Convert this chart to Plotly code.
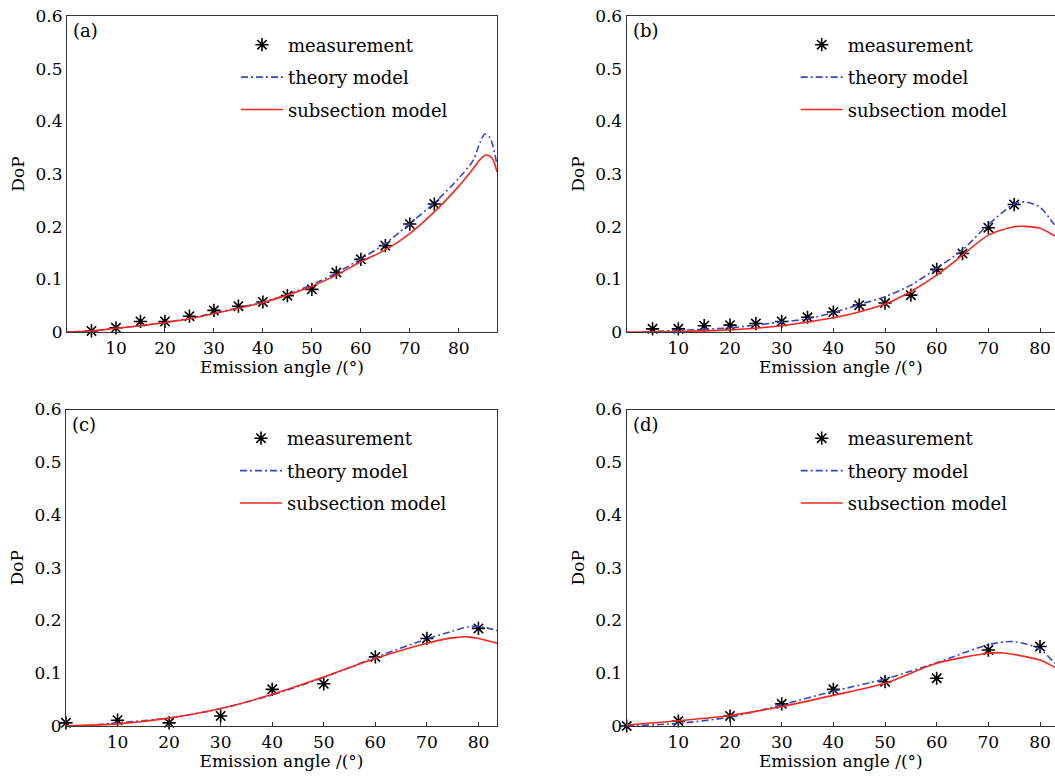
import plotly.graph_objects as go

# ---------------- data ----------------
# panel (a)
a_meas_x = [5, 10, 15, 20, 25, 30, 35, 40, 45, 50, 55, 60, 65, 70, 75]
a_meas_y = [0.002, 0.008, 0.020, 0.020, 0.030, 0.041, 0.049, 0.057, 0.069, 0.081, 0.113, 0.138, 0.164, 0.205, 0.243]
a_theory_x = [0, 5, 10, 15, 20, 25, 30, 35, 40, 45, 50, 55, 60, 65, 70, 75, 80, 83, 84.3, 85.3, 86.3, 87, 87.8]
a_theory_y = [0, 0.002, 0.007, 0.012, 0.018, 0.026, 0.036, 0.046, 0.057, 0.071, 0.090, 0.112, 0.139, 0.168, 0.206, 0.245, 0.292, 0.327, 0.359, 0.376, 0.370, 0.352, 0.317]
a_sub_x = [0, 5, 10, 15, 20, 25, 30, 35, 40, 45, 50, 55, 60, 65, 70, 75, 80, 83, 84.3, 85.6, 86.8, 87.8]
a_sub_y = [0, 0.002, 0.007, 0.012, 0.018, 0.025, 0.035, 0.045, 0.056, 0.070, 0.087, 0.108, 0.1335, 0.156, 0.187, 0.228, 0.277, 0.311, 0.327, 0.336, 0.330, 0.304]

# panel (b)
b_meas_x = [5, 10, 15, 20, 25, 30, 35, 40, 45, 50, 55, 60, 65, 70, 75]
b_meas_y = [0.006, 0.006, 0.012, 0.013, 0.016, 0.020, 0.028, 0.038, 0.051, 0.055, 0.070, 0.119, 0.149, 0.198, 0.242]
b_theory_x = [3, 10, 20, 30, 35, 40, 45, 50, 55, 60, 65, 70, 75, 77, 80, 82.6, 84]
b_theory_y = [0, 0.003, 0.008, 0.019, 0.025, 0.037, 0.052, 0.067, 0.089, 0.121, 0.156, 0.204, 0.243, 0.247, 0.237, 0.206, 0.190]
b_sub_x = [0, 10, 20, 30, 40, 45, 50, 55, 60, 65, 70, 75, 77, 80, 82.6, 84]
b_sub_y = [0, 0.001, 0.004, 0.012, 0.027, 0.038, 0.053, 0.077, 0.108, 0.146, 0.184, 0.200, 0.2006, 0.197, 0.184, 0.177]

# panel (c)
c_meas_x = [0, 10, 20, 30, 40, 50, 60, 70, 80]
c_meas_y = [0.006, 0.011, 0.006, 0.019, 0.0695, 0.080, 0.131, 0.166, 0.185]
c_theory_x = [3, 10, 20, 30, 40, 50, 60, 70, 75, 78, 80, 84]
c_theory_y = [0, 0.006, 0.015, 0.033, 0.059, 0.092, 0.130, 0.165, 0.180, 0.188, 0.189, 0.180]
c_sub_x = [0, 10, 20, 30, 40, 50, 60, 70, 75, 78, 80, 84]
c_sub_y = [0, 0.004, 0.015, 0.033, 0.060, 0.093, 0.128, 0.157, 0.167, 0.169, 0.166, 0.156]

# panel (d)
d_meas_x = [0, 10, 20, 30, 40, 50, 60, 70, 80]
d_meas_y = [0, 0.0095, 0.019, 0.042, 0.0695, 0.084, 0.0905, 0.144, 0.1506]
d_theory_x = [0, 10, 20, 30, 40, 50, 60, 70, 75, 80, 82.6, 84]
d_theory_y = [0, 0.005, 0.017, 0.040, 0.066, 0.089, 0.120, 0.154, 0.160, 0.1455, 0.122, 0.110]
d_sub_x = [0, 10, 20, 30, 40, 50, 60, 70, 72.3, 80, 82.6, 84]
d_sub_y = [0.002, 0.010, 0.020, 0.037, 0.058, 0.081, 0.119, 0.138, 0.139, 0.125, 0.1126, 0.105]

panel_labels = ["(a)", "(b)", "(c)", "(d)"]
series_names = ["measurement", "theory model", "subsection model"]
x_tickvals = [10, 20, 30, 40, 50, 60, 70, 80]
y_tickvals = [0, 0.1, 0.2, 0.3, 0.4, 0.5, 0.6]
y_ticktext = ["0", "0.1", "0.2", "0.3", "0.4", "0.5", "0.6"]
x_title = "Emission angle /(°)"
y_title = "DoP"

# ---------------- styling ----------------
FONT = "DejaVu Serif"
BLUE = "#3548c6"
RED = "#f5281e"
AXCOL = "#333333"
W, H = 1055, 776

panels = [
    dict(meas=(a_meas_x, a_meas_y), th=(a_theory_x, a_theory_y), sub=(a_sub_x, a_sub_y),
         xdom=(67 / W, 497 / W), ydom=((H - 332) / H, (H - 16) / H), xr=87.8, mirror_y=True),
    dict(meas=(b_meas_x, b_meas_y), th=(b_theory_x, b_theory_y), sub=(b_sub_x, b_sub_y),
         xdom=(626.7 / W, 1.0), ydom=((H - 332) / H, (H - 16) / H), xr=82.9, mirror_y=False),
    dict(meas=(c_meas_x, c_meas_y), th=(c_theory_x, c_theory_y), sub=(c_sub_x, c_sub_y),
         xdom=(66 / W, 497 / W), ydom=((H - 726) / H, (H - 409.5) / H), xr=83.6, mirror_y=True),
    dict(meas=(d_meas_x, d_meas_y), th=(d_theory_x, d_theory_y), sub=(d_sub_x, d_sub_y),
         xdom=(626.7 / W, 1.0), ydom=((H - 726) / H, (H - 409.5) / H), xr=82.9, mirror_y=False),
]

fig = go.Figure()
layout = dict(
    width=W, height=H,
    margin=dict(l=0, r=0, t=0, b=0, pad=0, autoexpand=False),
    paper_bgcolor="white", plot_bgcolor="white",
    font=dict(family=FONT, size=17, color="black"),
    annotations=[],
)

for i, p in enumerate(panels):
    n = i + 1
    sfx = "" if n == 1 else str(n)
    xa, ya = "x" + sfx, "y" + sfx
    lg = "legend" + sfx
    fig.add_trace(go.Scatter(
        x=p["meas"][0], y=p["meas"][1], mode="markers", name=series_names[0],
        marker=dict(symbol="asterisk-open", size=11, color="black", line=dict(color="black", width=1.6)),
        xaxis=xa, yaxis=ya, legend=lg, legendgroup=f"m{n}", cliponaxis=False))
    fig.add_trace(go.Scatter(
        x=p["th"][0], y=p["th"][1], mode="lines", name=series_names[1],
        line=dict(color=BLUE, width=1.6, dash="7px,3px,2px,3px", shape="spline", smoothing=0.8),
        xaxis=xa, yaxis=ya, legend=lg, legendgroup=f"t{n}"))
    fig.add_trace(go.Scatter(
        x=p["sub"][0], y=p["sub"][1], mode="lines", name=series_names[2],
        line=dict(color=RED, width=1.6, shape="spline", smoothing=0.8),
        xaxis=xa, yaxis=ya, legend=lg, legendgroup=f"s{n}"))

    layout["xaxis" + sfx] = dict(
        domain=list(p["xdom"]), anchor=ya, range=[0, p["xr"]],
        tickvals=x_tickvals, ticks="inside", ticklen=4, tickcolor=AXCOL,
        showline=True, linecolor=AXCOL, linewidth=1.2, mirror=True,
        showgrid=False, zeroline=False, ticklabelstandoff=0, automargin=False,
        tickfont=dict(family=FONT, size=17),
        title=dict(text=x_title, font=dict(family=FONT, size=17), standoff=0),
    )
    layout["yaxis" + sfx] = dict(
        domain=list(p["ydom"]), anchor=xa, range=[0, 0.6],
        tickvals=y_tickvals, ticktext=y_ticktext,
        ticks="", showline=True, linecolor=AXCOL, linewidth=1.2, mirror=p["mirror_y"],
        showgrid=False, zeroline=False, automargin=False,
        tickfont=dict(family=FONT, size=17),
        title=dict(text=y_title, font=dict(family=FONT, size=17), standoff=6),
    )
    x0 = p["xdom"][0]
    ytop = p["ydom"][1]
    layout["annotations"].append(dict(
        text=panel_labels[i], xref="paper", yref="paper",
        x=x0 + 4 / W, y=ytop - 2 / H, xanchor="left", yanchor="top",
        showarrow=False, font=dict(family=FONT, size=18)))
    layout[lg] = dict(
        x=x0 + 169 / W, y=ytop - 10.5 / H, xanchor="left", yanchor="top",
        bgcolor="rgba(0,0,0,0)", borderwidth=0, itemwidth=42,
        font=dict(family=FONT, size=18), traceorder="grouped", tracegroupgap=6,
    )

fig.update_layout(**layout)

fix_page = (
    "var gd=document.getElementById('{plot_id}');"
    "gd.style.position='fixed';gd.style.left='0px';gd.style.top='0px';"
    "document.documentElement.style.margin='0px';document.documentElement.style.padding='0px';"
    "document.documentElement.style.overflow='hidden';"
    "document.documentElement.style.width='1055px';document.documentElement.style.height='776px';"
    "document.body.style.margin='0px';document.body.style.padding='0px';"
    "document.body.style.overflow='hidden';"
    "document.body.style.width='1055px';document.body.style.height='776px';"
)
fig.write_html("out.html", config={"displayModeBar": False}, post_script=fix_page)
